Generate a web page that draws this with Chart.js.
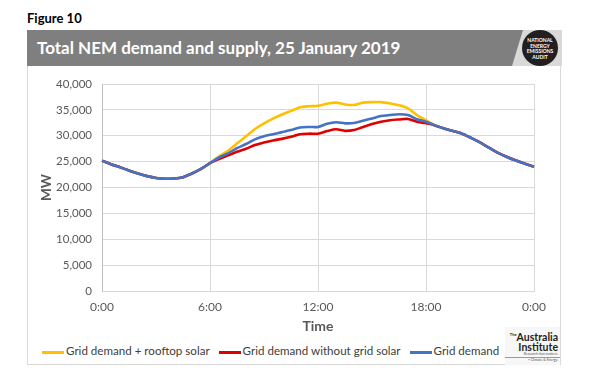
<!DOCTYPE html>
<html>
<head>
<meta charset="utf-8">
<script src="https://cdn.jsdelivr.net/npm/chart.js@4/dist/chart.umd.min.js"></script>
<style>
  body { margin: 0; background: #fff; font-family: Lato, "Open Sans", sans-serif; }
  #page { position: relative; width: 597px; height: 378px; overflow: hidden; }
  #fig { position: absolute; left: 27px; top: 10px; font-size: 13px; font-weight: bold; color: #000; }
  #box { position: absolute; left: 27px; top: 30px; width: 534px; height: 335px; border: 1px solid #d9d9d9; border-top: none; box-sizing: border-box; }
  #bar { position: absolute; left: 27px; top: 30px; width: 535px; height: 36px; background: #d9d9d9; }
  #barDark { position: absolute; left: 0; top: 0; width: 496px; height: 36px; background: #7f7f7f;
    clip-path: polygon(0 0, 100% 0, 485px 100%, 0 100%); }
  #barText { position: absolute; left: 10px; top: 7px; color: #fff; font-weight: bold; font-size: 17px; white-space: nowrap; }
  #neaLogo { position: absolute; left: 495px; top: 0px; width: 36px; height: 36px; border-radius: 50%; background: #231f20;
    color: #fff; font-size: 5px; font-weight: bold; line-height: 5.5px; text-align: center; padding-top: 8px; box-sizing: border-box; }
  #chartWrap { position: absolute; left: 27px; top: 66px; width: 535px; height: 270px; }
  #legend { position: absolute; left: 42px; top: 344px; font-size: 11.6px; color: #404040; white-space: nowrap; }
  .item { display: inline-block; margin-right: 6px; }
  .swatch { display: inline-block; width: 22px; height: 3px; vertical-align: middle; margin-right: 2px; }
  #tai { position: absolute; left: 505px; top: 327px; width: 55px; height: 38px; background: #f7f7f7; text-align: right; color: #231f20; }
  #tai .a { font-size: 10.5px; font-weight: bold; line-height: 10px; margin-top: 3px; padding-right: 2px; }
  #tai .s { font-size: 3.5px; line-height: 5px; color: #555; border-bottom: 1px solid #999; padding-right: 2px; }
</style>
</head>
<body>
<div id="page">
  <div id="fig">Figure 10</div>
  <div id="box"></div>
  <div id="bar">
    <div id="barDark"><div id="barText">Total NEM demand and supply, 25 January 2019</div></div>
    <div id="neaLogo">NATIONAL<br>ENERGY<br>EMISSIONS<br>AUDIT</div>
  </div>
  <div id="chartWrap"><canvas id="demandChart" width="535" height="270"></canvas></div>
  <div id="legend">
    <span class="item"><span class="swatch" style="background:#FFC000"></span>Grid demand + rooftop solar</span>
    <span class="item"><span class="swatch" style="background:#E00000"></span>Grid demand without grid solar</span>
    <span class="item"><span class="swatch" style="background:#4472C4"></span>Grid demand</span>
  </div>
  <div id="tai">
    <div class="a"><sup style="font-size:4px">The</sup>Australia<br>Institute</div>
    <div class="s">Research that matters.</div>
    <div class="s" style="border:none">&gt; Climate &amp; Energy.</div>
  </div>
</div>
<script>
// half-hourly time labels, 25 January 2019
const timeLabels = [
  '0:00','0:30','1:00','1:30','2:00','2:30','3:00','3:30','4:00','4:30','5:00','5:30',
  '6:00','6:30','7:00','7:30','8:00','8:30','9:00','9:30','10:00','10:30','11:00','11:30',
  '12:00','12:30','13:00','13:30','14:00','14:30','15:00','15:30','16:00','16:30','17:00','17:30',
  '18:00','18:30','19:00','19:30','20:00','20:30','21:00','21:30','22:00','22:30','23:00','23:30','0:00'
];

// MW values
const rooftopSolar = [
  25200, 24500, 23900, 23300, 22700, 22200, 21850, 21700, 21750, 22000, 22700, 23600,
  24700, 26000, 27100, 28500, 29900, 31300, 32400, 33300, 34100, 34800, 35500, 35700,
  35800, 36200, 36400, 36050, 35950, 36400, 36500, 36500, 36250, 35900, 35300, 34000,
  33000, 32000, 31400, 30900, 30400, 29600, 28700, 27700, 26700, 25900, 25200, 24600, 24000
];
const withoutGridSolar = [
  25200, 24500, 23900, 23300, 22700, 22200, 21850, 21700, 21750, 22000, 22700, 23600,
  24700, 25500, 26200, 26900, 27500, 28200, 28700, 29100, 29400, 29800, 30300, 30400,
  30400, 30900, 31250, 30950, 31100, 31700, 32250, 32700, 33000, 33150, 33250, 32700,
  32400, 32000, 31400, 30900, 30400, 29600, 28700, 27700, 26700, 25900, 25200, 24600, 24000
];
const gridDemand = [
  25200, 24500, 23900, 23300, 22700, 22200, 21850, 21700, 21750, 22000, 22700, 23600,
  24700, 25800, 26600, 27600, 28400, 29300, 29900, 30300, 30700, 31100, 31600, 31700,
  31700, 32300, 32600, 32400, 32450, 32900, 33350, 33800, 34000, 34150, 34000, 33200,
  32700, 32000, 31400, 30900, 30400, 29600, 28700, 27700, 26700, 25900, 25200, 24600, 24000
];

const textColor = '#595959';
const gridColor = '#d9d9d9';

const ctx = document.getElementById('demandChart').getContext('2d');
new Chart(ctx, {
  type: 'line',
  data: {
    labels: timeLabels,
    datasets: [
      // higher order is drawn first, so blue ends up on top like in the figure
      { label: 'Grid demand + rooftop solar', data: rooftopSolar, borderColor: '#FFC000', order: 3 },
      { label: 'Grid demand without grid solar', data: withoutGridSolar, borderColor: '#E00000', order: 2 },
      { label: 'Grid demand', data: gridDemand, borderColor: '#4472C4', order: 1 }
    ]
  },
  options: {
    responsive: false,
    animation: false,
    elements: {
      point: { radius: 0 },
      line: { borderWidth: 2.6, tension: 0.3, fill: false }
    },
    layout: { padding: { left: 0, top: 18, right: 28, bottom: 0 } },
    plugins: { legend: { display: false }, tooltip: { enabled: false } },
    scales: {
      x: {
        afterFit: s => { s.height = 45; },
        grid: {
          drawTicks: false,
          color: c => (c.index % 12 === 0 ? gridColor : 'rgba(0,0,0,0)')
        },
        border: { color: gridColor },
        ticks: {
          autoSkip: false,
          maxRotation: 0,
          padding: 9,
          color: textColor,
          font: { family: 'Lato', size: 12 },
          callback: function (v, i) { return i % 12 === 0 ? timeLabels[i] : ''; }
        },
        title: {
          display: true,
          text: 'Time',
          color: textColor,
          padding: { top: 0, bottom: 1 },
          font: { family: 'Lato', size: 14, weight: 'bold' }
        }
      },
      y: {
        min: 0,
        max: 40000,
        afterFit: s => { s.width = 75; },
        grid: { drawTicks: false, color: gridColor },
        border: { color: '#bfbfbf' },
        ticks: {
          stepSize: 5000,
          padding: 10,
          color: textColor,
          font: { family: 'Lato', size: 11.5 },
          callback: v => v.toLocaleString('en-US')
        },
        title: {
          display: true,
          text: 'MW',
          color: textColor,
          padding: { top: 12, bottom: 0 },
          font: { family: 'Lato', size: 13.5, weight: 'bold' }
        }
      }
    }
  }
});
</script>
</body>
</html>
